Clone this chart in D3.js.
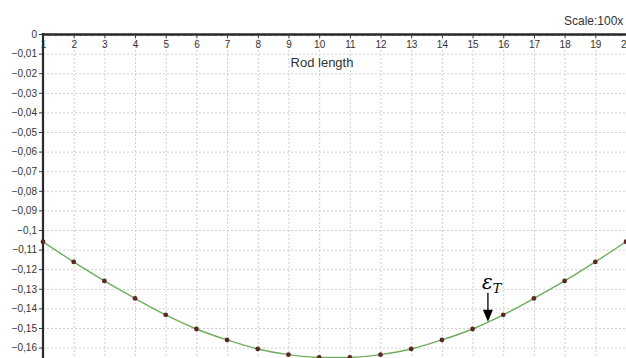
<!DOCTYPE html>
<html>
<head>
<meta charset="utf-8">
<script src="https://d3js.org/d3.v7.min.js"></script>
<style>
    body { margin: 0; background: #fff; }
    svg { display: block; font-family: "Liberation Sans", Arial, sans-serif; }
    .grid line { stroke: #cfcfcf; stroke-width: 1px; stroke-dasharray: 2,2; }
    .grid path { stroke-width: 0; }
    .axis path { stroke: #2a2a2a; stroke-width: 2.2px; fill: none; }
    .axis line { stroke: #333; stroke-width: 1px; }
    .axis text { font-size: 10px; fill: #333; }
    .curve { fill: none; stroke: #6fae5e; stroke-width: 1.4px; }
    .dot { fill: #5e2624; }
</style>
</head>
<body>
<svg id="chart" width="626" height="358"></svg>
<script>
    // Положения вдоль стержня
    const positions = [1, 2, 3, 4, 5, 6, 7, 8, 9, 10, 11, 12, 13, 14, 15, 16, 17, 18, 19, 20];
    // Прогиб в каждой точке
    const deflection = [-0.1060, -0.1163, -0.1260, -0.1349, -0.1433, -0.1505, -0.1561, -0.1607, -0.1636, -0.1650,
                        -0.1650, -0.1636, -0.1607, -0.1561, -0.1505, -0.1433, -0.1349, -0.1260, -0.1163, -0.1060];
    // Подписи оси Y
    const yTicks = [0, -0.01, -0.02, -0.03, -0.04, -0.05, -0.06, -0.07, -0.08, -0.09, -0.1,
                    -0.11, -0.12, -0.13, -0.14, -0.15, -0.16];
    const xLabel = "Rod length";
    const scaleLabel = "Scale:100x";
    // Метка ε_T
    const marker = { x: 15.5, y: -0.1468 };

    const svg = d3.select("#chart");
    const x = d3.scaleLinear().domain([1, 20]).range([43, 626]);
    const y = d3.scaleLinear().domain([0, -0.17]).range([34, 34 + 17 * 19.6]);

    const fmt = d => d === 0 ? "0" : d3.format("")(+d.toFixed(2)).replace(".", ",");

    // сетка
    svg.append("g")
        .attr("class", "grid")
        .attr("transform", "translate(0,34)")
        .call(d3.axisTop(x).tickValues(positions.slice(1)).tickSize(-400).tickFormat(""));
    svg.append("g")
        .attr("class", "grid")
        .attr("transform", "translate(43,0)")
        .call(d3.axisLeft(y).tickValues(yTicks.slice(1)).tickSize(-600).tickFormat(""));

    // малые деления оси X
    const minor = d3.range(1, 20.01, 0.2).filter(v => Math.abs(v - Math.round(v)) > 0.01);
    svg.append("g")
        .attr("class", "axis")
        .attr("transform", "translate(0,34)")
        .call(d3.axisBottom(x).tickValues(minor).tickSize(2).tickSizeOuter(0).tickFormat(""));

    // ось X сверху
    svg.append("g")
        .attr("class", "axis")
        .attr("transform", "translate(0,34)")
        .call(d3.axisBottom(x).tickValues(positions).tickSize(4).tickSizeOuter(0).tickPadding(3));

    // ось Y
    svg.append("g")
        .attr("class", "axis")
        .attr("transform", "translate(43,0)")
        .call(d3.axisLeft(y).tickValues(yTicks).tickSize(4).tickSizeOuter(0).tickPadding(2).tickFormat(fmt))
        .select("path").attr("d", "M0,33V400");

    // кривая
    const pts = positions.map((p, i) => [p, deflection[i]]);
    svg.append("path")
        .datum(pts)
        .attr("class", "curve")
        .attr("d", d3.line().x(d => x(d[0])).y(d => y(d[1])).curve(d3.curveMonotoneX));
    svg.selectAll(".dot")
        .data(pts)
        .enter()
        .append("circle")
        .attr("class", "dot")
        .attr("cx", d => x(d[0]))
        .attr("cy", d => y(d[1]))
        .attr("r", 2.4);

    // подписи
    svg.append("text")
        .attr("x", 322).attr("y", 67)
        .attr("text-anchor", "middle")
        .style("font-size", "13px").style("fill", "#333")
        .text(xLabel);
    svg.append("text")
        .attr("x", 564).attr("y", 25)
        .style("font-size", "12px").style("fill", "#333")
        .text(scaleLabel);

    // стрелка ε_T
    const mx = x(marker.x), my = y(marker.y);
    svg.append("line")
        .attr("x1", mx).attr("x2", mx)
        .attr("y1", my - 29).attr("y2", my - 10)
        .attr("stroke", "#000").attr("stroke-width", 1.3);
    svg.append("path")
        .attr("d", `M${mx - 5},${my - 12}L${mx + 5},${my - 12}L${mx},${my}Z`)
        .attr("fill", "#000");
    const eps = svg.append("text")
        .attr("x", mx - 6).attr("y", my - 33)
        .style("font-family", "'DejaVu Serif', 'Liberation Serif', serif")
        .style("font-style", "italic")
        .style("font-size", "20px")
        .text("ε");
    eps.append("tspan")
        .attr("dy", 4)
        .style("font-size", "13px")
        .text("T");
</script>
</body>
</html>
